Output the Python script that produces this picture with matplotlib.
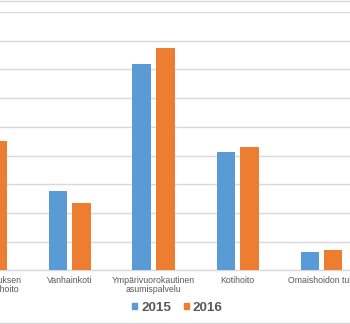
import numpy as np
import matplotlib
matplotlib.use("Agg")
import matplotlib.pyplot as plt
from matplotlib.patches import Patch
from matplotlib.lines import Line2D

plt.rcParams["font.family"] = ["Liberation Sans", "DejaVu Sans"]

categories = ["Terveyskeskuksen\nvuodeosastohoito",
              "Vanhainkoti",
              "Ympärivuorokautinen\nasumispalvelu",
              "Kotihoito",
              "Omaishoidon tuki"]
values_2015 = [26000, 13870, 35900, 20650, 3200]
values_2016 = [22500, 11720, 38700, 21530, 3480]
series_labels = ["2015", "2016"]

blue = "#5B9BD5"
orange = "#ED7D31"
text_color = "#595959"
grid_color = "#D9D9D9"

#%%
fig = plt.figure(figsize=(3.5, 3.24), dpi=100)
# plot area extends past the cropped picture on both sides
ax = fig.add_axes([-56.5/350, 53.7/324, 420/350, 258.3/324])

x = np.arange(len(categories))
w = 0.22
ax.bar(x - 0.14, values_2015, width=w, color=blue, zorder=3)
ax.bar(x + 0.14, values_2016, width=w, color=orange, zorder=3)

ax.set_xlim(-0.5, len(categories) - 0.5)
ax.set_ylim(0, 45000)
ax.set_yticks(np.arange(0, 45001, 5000))
ax.yaxis.grid(True, color=grid_color, linewidth=1.0)
ax.set_axisbelow(True)
ax.tick_params(axis="y", length=0, labelleft=False)

ax.set_xticks(x)
ax.set_xticklabels(categories, fontsize=6.3, color=text_color, linespacing=1.05)
ax.tick_params(axis="x", length=0, pad=4)

for s in ["top", "right", "left"]:
    ax.spines[s].set_visible(False)
ax.spines["bottom"].set_color(grid_color)
ax.spines["bottom"].set_linewidth(1.0)

handles = [Patch(color=blue), Patch(color=orange)]
leg = fig.legend(handles, series_labels, loc="center", bbox_to_anchor=(177.5/350, 1 - 308/324),
                 ncol=2, frameon=False, handlelength=0.37, handleheight=0.37,
                 handletextpad=0.3, columnspacing=0.9,
                 prop={"size": 9.7, "weight": "bold"})
for t in leg.get_texts():
    t.set_color(text_color)

# chart border (top and bottom visible in the crop)
fig.add_artist(Line2D([0, 1], [1 - 0.8/324, 1 - 0.8/324], color=grid_color, linewidth=1.0))
fig.add_artist(Line2D([0, 1], [1 - 322.7/324, 1 - 322.7/324], color=grid_color, linewidth=1.0))

fig.savefig("out.png", dpi=100)
